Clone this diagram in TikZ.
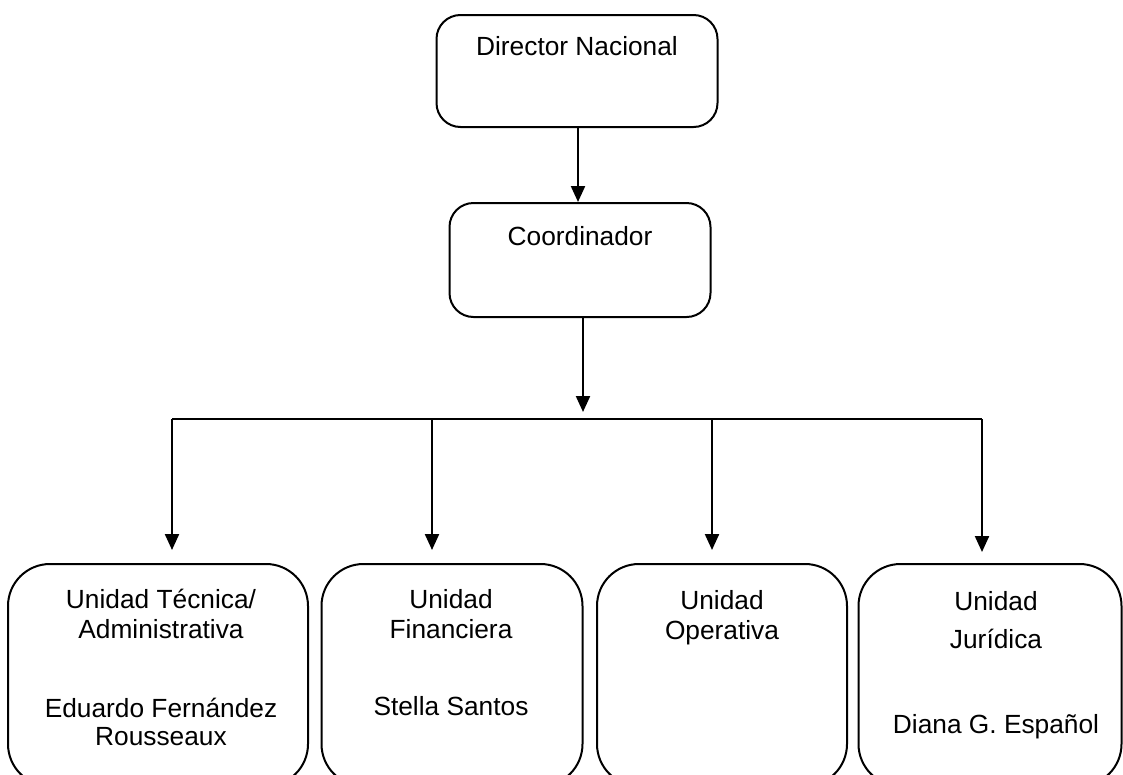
\documentclass[tikz,border=0pt]{standalone}
\usepackage{fontspec}
\setmainfont{Liberation Sans}
\usetikzlibrary{arrows.meta}
\tikzset{
  box/.style={draw=black, line width=2pt, rounded corners=#1, inner sep=0pt},
  box/.default=24pt,
  lbl/.style={anchor=base, inner sep=0pt, font=\fontsize{26.3}{30}\selectfont},
  conn/.style={line width=2.2pt},
  arr/.style={conn, -{Triangle[length=16pt,width=14pt]}}
}
\begin{document}
\begin{tikzpicture}[x=1pt,y=-1pt]
\useasboundingbox (0,0) rectangle (1123,774);
\fill[white] (0,0) rectangle (1123,774);
\clip (0,0) rectangle (1123,774);
% top boxes
\node[box, minimum width=281pt, minimum height=112pt] (dir) at (577,71) {};
\node[lbl] (dirt) at (577,55) {Director Nacional};
\node[box, minimum width=261pt, minimum height=114pt] (coo) at (580,260) {};
\node[lbl] (coot) at (580,245) {Coordinador};
% bottom boxes
\node[box=42pt, minimum width=300pt, minimum height=222pt] (u1) at (158,675) {};
\node[box=42pt, minimum width=261pt, minimum height=222pt] (u2) at (452,675) {};
\node[box=42pt, minimum width=250pt, minimum height=222pt] (u3) at (722,675) {};
\node[box=42pt, minimum width=263pt, minimum height=222pt] (u4) at (990,675) {};
% texts
\node[lbl] (u1a) at (161,608) {Unidad Técnica/};
\node[lbl] (u1b) at (161,638) {Administrativa};
\node[lbl] (u1c) at (161,717) {Eduardo Fernández};
\node[lbl] (u1d) at (161,745) {Rousseaux};
\node[lbl] (u2a) at (451,608) {Unidad};
\node[lbl] (u2b) at (451,638) {Financiera};
\node[lbl] (u2c) at (451,715) {Stella Santos};
\node[lbl] (u3a) at (722,609) {Unidad};
\node[lbl] (u3b) at (722,639) {Operativa};
\node[lbl] (u4a) at (996,610) {Unidad};
\node[lbl] (u4b) at (996,648) {Jurídica};
\node[lbl] (u4c) at (996,733) {Diana G. Español};
% connectors
\coordinate (hl) at (172,419);
\coordinate (hr) at (982,419);
\coordinate (b2) at (432,419);
\coordinate (b3) at (712,419);
\draw[arr] (dir.south -| 578,0) -- (coo.north -| 578,0);
\draw[arr] (coo.south -| 583,0) -- (583,412);
\draw[conn] (hl) -- (hr);
\draw[arr] (hl) -- (hl |- 0,550);
\draw[arr] (b2) -- (b2 |- 0,550);
\draw[arr] (b3) -- (b3 |- 0,550);
\draw[arr] (hr) -- (hr |- 0,552);
\end{tikzpicture}
\end{document}
